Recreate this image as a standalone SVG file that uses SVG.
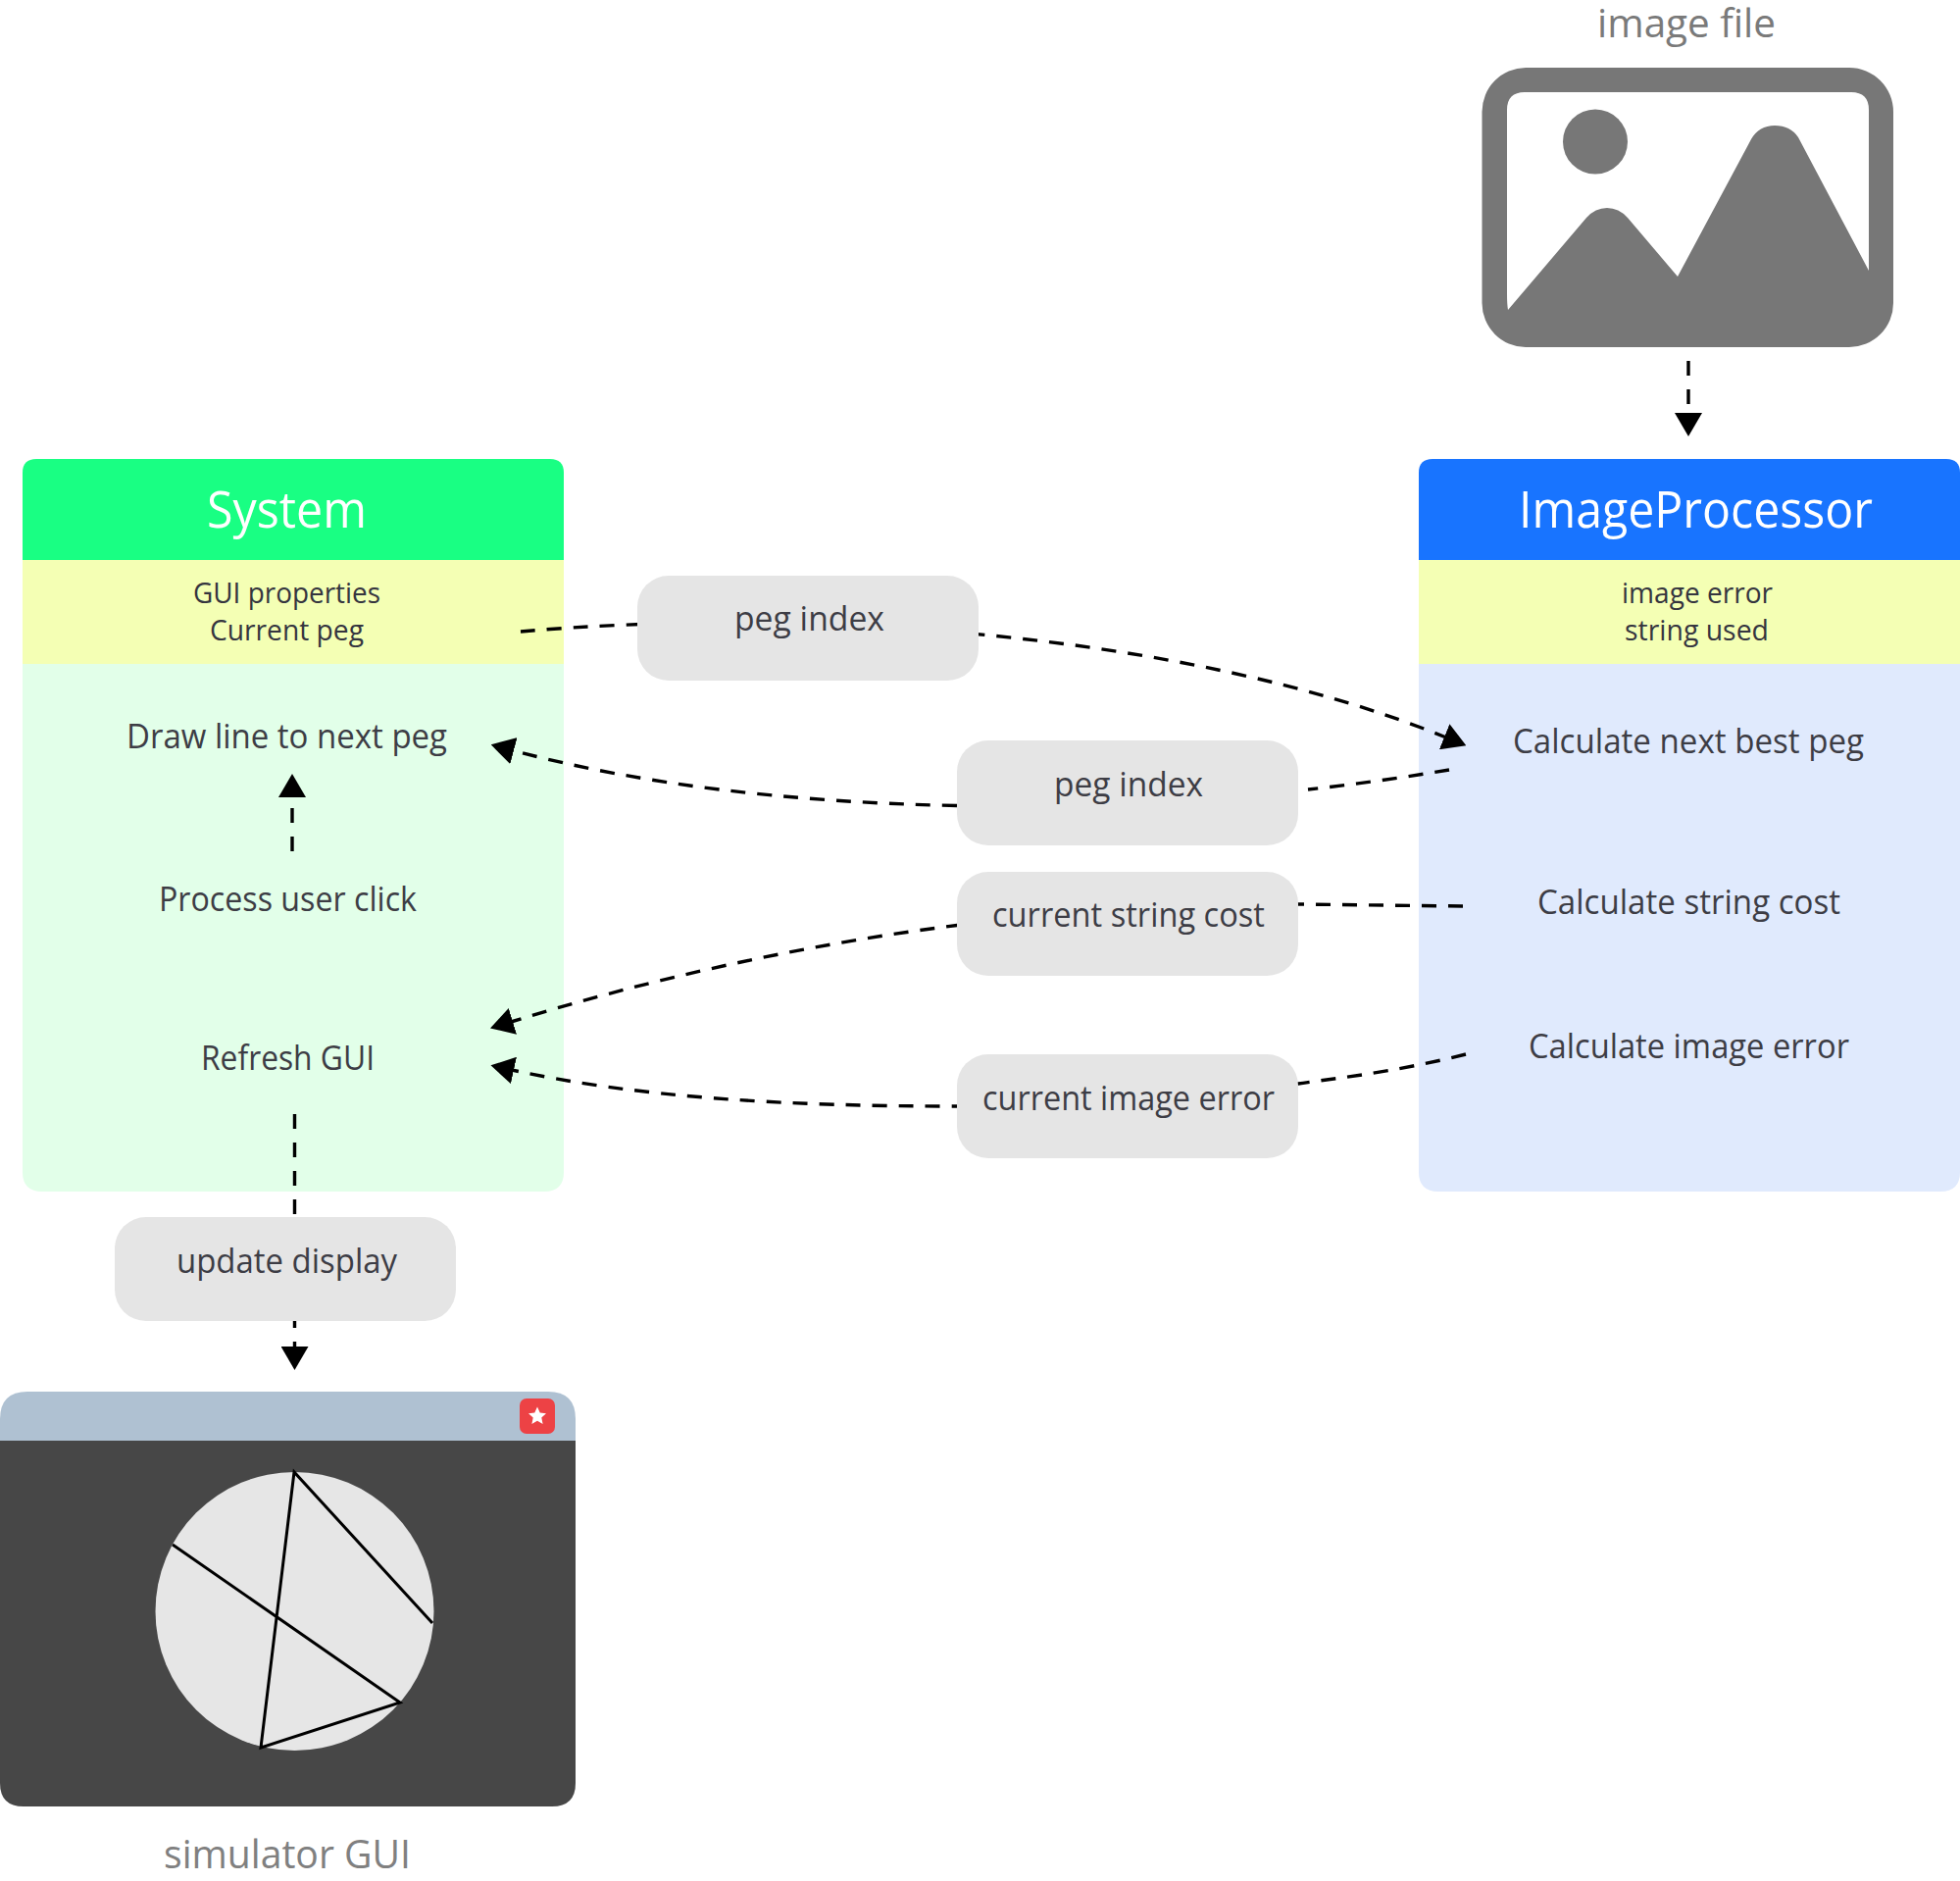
<svg xmlns="http://www.w3.org/2000/svg" width="1999" height="1918" viewBox="0 0 1999 1918">
<style>
text{font-family:"Open Sans","Noto Sans",sans-serif}
.b{font-size:34px;fill:#3d3d45}
.s{font-size:29px;fill:#35353f}
.h{font-size:51px;fill:#fff}
.c{font-size:41px;fill:#7a7a7a}
.p{fill:#e5e5e5}
.d{fill:none;stroke:#000;stroke-width:3.4;stroke-dasharray:15 12}
.v{fill:none;stroke:#000;stroke-width:3.4;stroke-dasharray:15 14}
.l{fill:none;stroke:#000;stroke-width:3}
</style>
<defs>
<marker id="a" viewBox="0 0 24 28" refX="2" refY="14" markerWidth="24" markerHeight="28" markerUnits="userSpaceOnUse" orient="auto"><path d="M0 0L24 14L0 28Z" fill="#000"/></marker>
</defs>
<rect width="1999" height="1918" fill="#fff"/>

<g id="image-file">
<path d="M1556 69H1886A45 45 0 0 1 1931 114V309A45 45 0 0 1 1886 354H1556A45 45 0 0 1 1511.500 309V114A45 45 0 0 1 1556 69Z" fill="#777"/>
<path d="M1555 94H1888Q1906 94 1906 112V276L1834 140Q1826 128 1810 128Q1794 128 1786 142L1711 282L1660 222Q1651 212 1639 212Q1627 212 1618 222L1538 316Q1537 310 1537 300V112Q1537 94 1555 94Z" fill="#fff"/>
<circle cx="1627" cy="144.500" r="33" fill="#777"/>
<text class="c" x="1629" y="38" textLength="182" lengthAdjust="spacingAndGlyphs">image file</text>
</g>

<g id="system">
<path d="M23 571V482Q23 468 37 468H561Q575 468 575 482V571Z" fill="#19ff83"/>
<rect x="23" y="571" width="552" height="106" fill="#f4ffb4"/>
<path d="M23 677H575V1195Q575 1215 555 1215H43Q23 1215 23 1195Z" fill="#e2ffe9"/>
<text class="h" x="211" y="537.500" textLength="163" lengthAdjust="spacingAndGlyphs">System</text>
<text class="s" x="197" y="615" textLength="191" lengthAdjust="spacingAndGlyphs">GUI properties</text>
<text class="s" x="214" y="653" textLength="157" lengthAdjust="spacingAndGlyphs">Current peg</text>
<text class="b" x="129" y="763" textLength="327" lengthAdjust="spacingAndGlyphs">Draw line to next peg</text>
<text class="b" x="162" y="929" textLength="263" lengthAdjust="spacingAndGlyphs">Process user click</text>
<text class="b" x="205" y="1091" textLength="177" lengthAdjust="spacingAndGlyphs">Refresh GUI</text>
</g>

<g id="image-processor">
<path d="M1447 571V482Q1447 468 1461 468H1985Q1999 468 1999 482V571Z" fill="#1874ff"/>
<rect x="1447" y="571" width="552" height="106" fill="#f4ffb4"/>
<path d="M1447 677H1999V1195Q1999 1215 1979 1215H1467Q1447 1215 1447 1195Z" fill="#e0eafd"/>
<text class="h" x="1549" y="537.500" textLength="361" lengthAdjust="spacingAndGlyphs">ImageProcessor</text>
<text class="s" x="1654" y="615" textLength="154" lengthAdjust="spacingAndGlyphs">image error</text>
<text class="s" x="1657" y="653" textLength="147" lengthAdjust="spacingAndGlyphs">string used</text>
<text class="b" x="1543" y="768" textLength="358" lengthAdjust="spacingAndGlyphs">Calculate next best peg</text>
<text class="b" x="1568" y="932" textLength="309" lengthAdjust="spacingAndGlyphs">Calculate string cost</text>
<text class="b" x="1559" y="1079" textLength="327" lengthAdjust="spacingAndGlyphs">Calculate image error</text>
</g>

<g id="connectors">
<path class="v" d="M1722 368V423" marker-end="url(#a)"/>
<path class="v" d="M298 868V811" marker-end="url(#a)"/>
<path class="v" d="M300.500 1136V1375" marker-end="url(#a)"/>
<path class="d" d="M531 644C800 620 1200 640 1475 752" marker-end="url(#a)"/>
<path class="d" d="M1478 785C1430 793 1380 800 1334 805"/>
<path class="d" d="M976 821.500C800 818 650 799 522 765" marker-end="url(#a)"/>
<path class="d" d="M1492 924L1324 922C1200 920 1100 928 976 943.500C820 963 660 999 521 1042" marker-end="url(#a)"/>
<path class="d" d="M1495 1075C1420 1094 1350 1101 1324 1105C1200 1122 1100 1128 976 1128C800 1128 650 1119 522 1091" marker-end="url(#a)"/>
</g>

<g id="pill-peg-index-1"><rect class="p" x="650" y="587" width="348" height="107" rx="32"/><text class="b" x="749" y="643" textLength="153" lengthAdjust="spacingAndGlyphs">peg index</text></g>
<g id="pill-peg-index-2"><rect class="p" x="976" y="755" width="348" height="107" rx="32"/><text class="b" x="1075" y="812" textLength="152" lengthAdjust="spacingAndGlyphs">peg index</text></g>
<g id="pill-string-cost"><rect class="p" x="976" y="889" width="348" height="106" rx="32"/><text class="b" x="1012" y="945" textLength="278" lengthAdjust="spacingAndGlyphs">current string cost</text></g>
<g id="pill-image-error"><rect class="p" x="976" y="1075" width="348" height="106" rx="32"/><text class="b" x="1002" y="1132" textLength="298" lengthAdjust="spacingAndGlyphs">current image error</text></g>
<g id="pill-update-display"><rect class="p" x="117" y="1241" width="348" height="106" rx="32"/><text class="b" x="180" y="1298" textLength="225" lengthAdjust="spacingAndGlyphs">update display</text></g>

<g id="simulator-gui">
<path d="M0 1469V1447Q0 1419 28 1419H559Q587 1419 587 1447V1469Z" fill="#afc1d2"/>
<path d="M0 1469H587V1818Q587 1842 563 1842H24Q0 1842 0 1818Z" fill="#474747"/>
<rect x="530" y="1426" width="36" height="36" rx="7" fill="#ed4245"/>
<polygon points="548,1434.500 550.700,1440.500 557,1441.200 552.300,1445.500 553.600,1452 548,1448.700 542.400,1452 543.700,1445.500 539,1441.200 545.300,1440.500" fill="#fff"/>
<circle cx="300.500" cy="1643" r="142" fill="#e6e6e6"/>
<path class="l" d="M176 1575L408 1736L266 1782L300 1501L441 1655"/>
<text class="c" x="167" y="1905" textLength="252" lengthAdjust="spacingAndGlyphs" style="fill:#808080">simulator GUI</text>
</g>
</svg>
